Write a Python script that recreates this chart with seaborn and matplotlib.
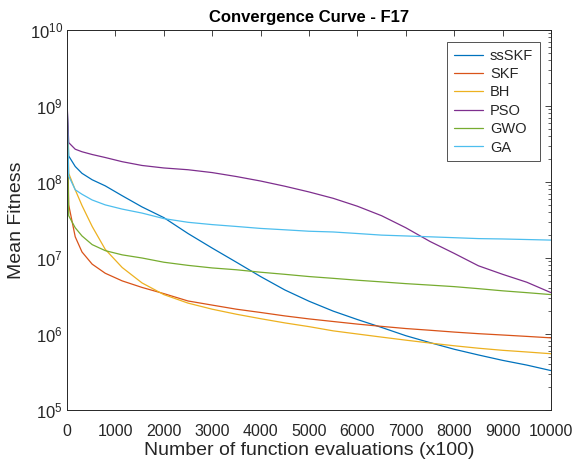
import numpy as np
import pandas as pd
import matplotlib
matplotlib.use("Agg")
import matplotlib.pyplot as plt
from matplotlib.ticker import LogLocator, FixedLocator, NullFormatter, FuncFormatter
import seaborn as sns

# Function evaluations (x100) at which the mean fitness was recorded
evals = [0, 35, 170, 310, 520, 790, 1140, 1550, 2000, 2500, 3000, 3500, 4000,
         4500, 5000, 5500, 6000, 6500, 7000, 7500, 8000, 8500, 9000, 9500, 10000]

ssSKF = [1.2e9, 2.2e8, 1.6e8, 1.3e8, 1.07e8, 8.9e7, 6.6e7, 4.7e7, 3.4e7, 2.1e7,
         1.35e7, 8.8e6, 5.7e6, 3.8e6, 2.7e6, 2.0e6, 1.55e6, 1.22e6, 9.5e5, 7.7e5,
         6.3e5, 5.3e5, 4.5e5, 3.9e5, 3.3e5]
SKF = [1.2e9, 5.0e7, 1.9e7, 1.2e7, 8.3e6, 6.3e6, 5.0e6, 4.1e6, 3.4e6, 2.72e6,
       2.4e6, 2.12e6, 1.92e6, 1.73e6, 1.58e6, 1.46e6, 1.35e6, 1.26e6, 1.18e6,
       1.12e6, 1.06e6, 1.01e6, 0.97e6, 0.93e6, 0.89e6]
BH = [1.2e9, 1.3e8, 7.9e7, 4.9e7, 2.6e7, 1.3e7, 7.5e6, 4.7e6, 3.3e6, 2.55e6,
      2.12e6, 1.82e6, 1.59e6, 1.4e6, 1.25e6, 1.1e6, 1.0e6, 0.91e6, 0.83e6, 0.76e6,
      0.70e6, 0.65e6, 0.61e6, 0.58e6, 0.55e6]
PSO = [1.2e9, 3.3e8, 2.7e8, 2.5e8, 2.3e8, 2.1e8, 1.85e8, 1.65e8, 1.53e8, 1.45e8,
       1.33e8, 1.18e8, 1.03e8, 8.8e7, 7.4e7, 6.1e7, 4.8e7, 3.6e7, 2.5e7, 1.65e7,
       1.15e7, 7.9e6, 6.1e6, 4.8e6, 3.5e6]
GWO = [1.2e9, 3.6e7, 2.5e7, 1.95e7, 1.5e7, 1.25e7, 1.1e7, 1.0e7, 8.8e6, 8.0e6,
       7.4e6, 7.0e6, 6.5e6, 6.1e6, 5.7e6, 5.4e6, 5.1e6, 4.85e6, 4.6e6, 4.4e6,
       4.2e6, 3.95e6, 3.7e6, 3.5e6, 3.3e6]
GA = [1.2e9, 1.2e8, 7.9e7, 6.9e7, 5.8e7, 5.0e7, 4.4e7, 3.9e7, 3.3e7, 2.95e7,
      2.75e7, 2.6e7, 2.45e7, 2.35e7, 2.25e7, 2.2e7, 2.1e7, 2.0e7, 1.95e7, 1.9e7,
      1.85e7, 1.8e7, 1.78e7, 1.75e7, 1.72e7]

algorithms = ["ssSKF", "SKF", "BH", "PSO", "GWO", "GA"]
series = [ssSKF, SKF, BH, PSO, GWO, GA]
colors = ["#0072BD", "#D95319", "#EDB120", "#7E2F8E", "#77AC30", "#4DBEEE"]
x_ticks = [0, 1000, 2000, 3000, 4000, 5000, 6000, 7000, 8000, 9000, 10000]

df = pd.DataFrame({
    "evals": np.tile(evals, len(algorithms)),
    "fitness": np.concatenate(series),
    "algorithm": np.repeat(algorithms, len(evals)),
})

sns.set_theme(style="white")
plt.rcParams["font.family"] = ["Liberation Sans", "DejaVu Sans"]
plt.rcParams["mathtext.fontset"] = "custom"
plt.rcParams["mathtext.rm"] = "Liberation Sans"
plt.rcParams["mathtext.it"] = "Liberation Sans:italic"

ink = "#262626"
fig = plt.figure(figsize=(5.72, 4.62), dpi=100)
ax = fig.add_axes([67 / 572, 1 - 410 / 462, 484 / 572, 380 / 462])

sns.lineplot(data=df, x="evals", y="fitness", hue="algorithm",
             hue_order=algorithms, palette=dict(zip(algorithms, colors)),
             linewidth=0.9, ax=ax, estimator=None, sort=False)

ax.set_yscale("log")
ax.set_xlim(0, 10000)
ax.set_ylim(1e5, 1e10)
ax.xaxis.set_major_locator(FixedLocator(x_ticks))
ax.yaxis.set_major_locator(LogLocator(base=10, numticks=10))
ax.yaxis.set_minor_locator(LogLocator(base=10, subs=np.arange(2, 10), numticks=20))
ax.yaxis.set_minor_formatter(NullFormatter())
ax.yaxis.set_major_formatter(FuncFormatter(
    lambda v, p: r"$\mathregular{10^{%d}}$" % round(np.log10(v))))

ax.tick_params(axis="both", which="both", direction="in", top=True, right=True,
               colors=ink, labelsize=11.5)
ax.tick_params(axis="x", which="major", pad=10)
ax.tick_params(axis="y", which="major", pad=3, labelsize=12)
ax.tick_params(which="major", length=4, width=0.6)
ax.tick_params(which="minor", length=2.2, width=0.5)
for s in ax.spines.values():
    s.set_color(ink)
    s.set_linewidth(0.7)

ax.set_xlabel("Number of function evaluations (x100)", fontsize=14, color=ink, labelpad=2)
ax.set_ylabel("Mean Fitness", fontsize=14, color=ink, labelpad=3)
ax.set_title("Convergence Curve - F17", fontsize=12, fontweight="bold",
             color="black", pad=6)

leg = ax.legend(loc="upper right", bbox_to_anchor=(0.977, 0.968), fontsize=10.5,
                frameon=True, fancybox=False, handlelength=2.0, handletextpad=0.5,
                labelspacing=0.3, borderpad=0.45, borderaxespad=0)
leg.get_frame().set_edgecolor(ink)
leg.get_frame().set_linewidth(0.7)
for t in leg.get_texts():
    t.set_color(ink)

fig.savefig("out.png", dpi=100, facecolor="white")
